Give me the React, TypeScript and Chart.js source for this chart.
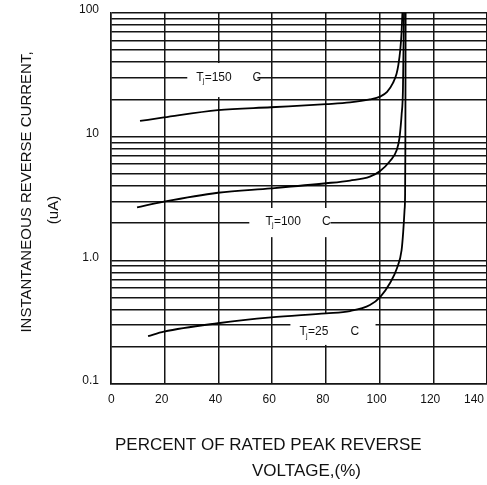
import React, { useEffect, useRef } from "react";
import { Chart, registerables } from "chart.js";

Chart.register(...registerables);

// ---- data ----
const xTickValues = [0, 20, 40, 60, 80, 100, 120, 140];
const yLabelValues = [0.1, 1, 10, 100];
const yTickLabels = ["0.1", "1.0", "10", "100"];
const decadeStarts = [0.1, 1, 10];
const decadeMultipliers = [1, 2, 3, 4, 5, 6, 7, 8, 9];

const seriesNames = ["150", "100", "25"];

const pct150 = [10.8, 19.7, 39.8, 59.6, 80.1, 89.0, 96.4, 100.2, 102.8, 105.0, 106.3, 107.0, 107.7, 108.2, 108.5];
const cur150 = [13.4, 14.3, 16.4, 17.3, 18.3, 18.9, 20.0, 21.1, 23.0, 27.2, 32.1, 38.0, 50.2, 70.2, 100];

const pct100 = [9.7, 19.7, 39.8, 59.6, 80.1, 89.0, 96.4, 100.2, 103.9, 106.4, 107.4, 107.9, 108.2, 108.7, 108.9, 109.1];
const cur100 = [2.68, 2.98, 3.52, 3.82, 4.2, 4.42, 4.75, 5.28, 6.36, 7.8, 9.75, 12.4, 15.0, 23.8, 50.2, 100];

const pct25 = [13.8, 19.7, 39.8, 59.6, 80.1, 89.0, 96.4, 100.2, 103.9, 106.5, 108.2, 108.8, 109.3, 109.5, 109.6, 109.7];
const cur25 = [0.244, 0.265, 0.31, 0.346, 0.373, 0.389, 0.435, 0.505, 0.656, 0.867, 1.21, 1.7, 2.55, 3.38, 7.8, 100];

const yTitle = "INSTANTANEOUS REVERSE CURRENT,";
const yUnit = "(uA)";
const xTitle1 = "PERCENT OF RATED PEAK REVERSE";
const xTitle2 = "VOLTAGE,(%)";

const toPoints = (xs: number[], ys: number[]) => xs.map((x, i) => ({ x, y: ys[i] }));

// label placement (data coordinates) for the temperature annotations
const curveLabels = [
  { temp: seriesNames[0], tx: 31.7, cx: 52.7, y: 30, box: [28.4, 54.5, 39.4, 20.9] },
  { temp: seriesNames[1], tx: 57.5, cx: 78.6, y: 2.05, box: [51.5, 81.7, 2.65, 1.54] },
  { temp: seriesNames[2], tx: 70.2, cx: 89.2, y: 0.263, box: [66.8, 98.5, 0.375, 0.207] },
];

const FONT = '"Liberation Sans", Arial, Helvetica, sans-serif';

const annotationPlugin = {
  id: "annot",
  beforeDatasetsDraw(chart: any) {
    const ctx = chart.ctx;
    const xs = chart.scales.x;
    const ys = chart.scales.y;
    ctx.save();
    for (const l of curveLabels) {
      const x1 = xs.getPixelForValue(l.box[0]);
      const x2 = xs.getPixelForValue(l.box[1]);
      const y1 = ys.getPixelForValue(l.box[2]);
      const y2 = ys.getPixelForValue(l.box[3]);
      ctx.fillStyle = "#ffffff";
      ctx.fillRect(x1, y1, x2 - x1, y2 - y1);
      const tx = xs.getPixelForValue(l.tx);
      const cx = xs.getPixelForValue(l.cx);
      const ty = ys.getPixelForValue(l.y);
      ctx.fillStyle = "#111111";
      ctx.textBaseline = "middle";
      ctx.textAlign = "left";
      ctx.font = `12px ${FONT}`;
      ctx.fillText("T", tx, ty);
      ctx.font = `7px ${FONT}`;
      ctx.fillText("j", tx + 6.5, ty + 3.5);
      ctx.font = `12px ${FONT}`;
      ctx.fillText("=" + l.temp, tx + 8.5, ty);
      ctx.fillText("C", cx, ty);
    }
    ctx.restore();
  },
  afterDraw(chart: any) {
    const ctx = chart.ctx;
    ctx.save();
    ctx.fillStyle = "#111111";
    ctx.textBaseline = "middle";
    ctx.save();
    ctx.translate(27, 192);
    ctx.rotate(-Math.PI / 2);
    ctx.textAlign = "center";
    ctx.font = `15px ${FONT}`;
    ctx.fillText(yTitle, 0, 0);
    ctx.restore();
    ctx.save();
    ctx.translate(54, 210);
    ctx.rotate(-Math.PI / 2);
    ctx.textAlign = "center";
    ctx.font = `15px ${FONT}`;
    ctx.fillText(yUnit, 0, 0);
    ctx.restore();
    ctx.textAlign = "left";
    ctx.font = `17px ${FONT}`;
    ctx.fillText(xTitle1, 115, 445);
    ctx.fillText(xTitle2, 252, 471);
    ctx.restore();
  },
};

export default function App() {
  const ref = useRef<HTMLCanvasElement | null>(null);

  useEffect(() => {
    if (!ref.current) return;
    const lineStyle = {
      borderColor: "#000000",
      borderWidth: 1.8,
      pointRadius: 0,
      fill: false,
      cubicInterpolationMode: "monotone" as const,
    };
    const gridValues: number[] = [];
    decadeStarts.forEach((d) => decadeMultipliers.forEach((m) => gridValues.push(d * m)));
    gridValues.push(100);

    const chart = new Chart(ref.current, {
      type: "line",
      data: {
        datasets: [
          { label: seriesNames[0], data: toPoints(pct150, cur150), ...lineStyle },
          { label: seriesNames[1], data: toPoints(pct100, cur100), ...lineStyle },
          { label: seriesNames[2], data: toPoints(pct25, cur25), ...lineStyle },
        ],
      },
      options: {
        animation: false,
        responsive: false,
        devicePixelRatio: 1,
        layout: { padding: { left: 0, right: 0, top: 13, bottom: 0 } },
        plugins: { legend: { display: false }, tooltip: { enabled: false }, title: { display: false } },
        scales: {
          x: {
            type: "linear",
            min: 0,
            max: 140,
            afterBuildTicks: (s: any) => {
              s.ticks = xTickValues.map((v) => ({ value: v }));
            },
            afterFit: (s: any) => {
              s.height = 101;
              s.paddingLeft = 0;
              s.paddingRight = 0;
            },
            grid: { color: "#151515", lineWidth: 1.5, drawTicks: false },
            border: { display: true, color: "#151515", width: 1.5 },
            ticks: {
              color: "#111",
              font: { family: FONT, size: 12 },
              padding: 8,
              align: "inner",
              labelOffset: -3,
              maxRotation: 0,
              autoSkip: false,
            },
          },
          y: {
            type: "logarithmic",
            min: 0.1,
            max: 100,
            afterBuildTicks: (s: any) => {
              s.ticks = gridValues.map((v) => ({ value: v }));
            },
            afterFit: (s: any) => {
              s.width = 111;
              s.paddingTop = 0;
              s.paddingBottom = 0;
            },
            grid: { color: "#151515", lineWidth: 1.5, drawTicks: false },
            border: { display: true, color: "#151515", width: 1.5 },
            ticks: {
              color: "#111",
              font: { family: FONT, size: 12 },
              padding: 12,
              labelOffset: -3,
              autoSkip: false,
              callback: (value: any) => {
                const v = Number(value);
                const i = yLabelValues.findIndex((m) => Math.abs(m - v) / m < 1e-6);
                return i >= 0 ? yTickLabels[i] : "";
              },
            },
          },
        },
      },
      plugins: [annotationPlugin],
    });
    return () => chart.destroy();
  }, []);

  return (
    <div style={{ position: "fixed", left: 0, top: 0, width: 487, height: 485, background: "#fff" }}>
      <canvas ref={ref} width={487} height={485} style={{ width: 487, height: 485, display: "block" }} />
    </div>
  );
}
